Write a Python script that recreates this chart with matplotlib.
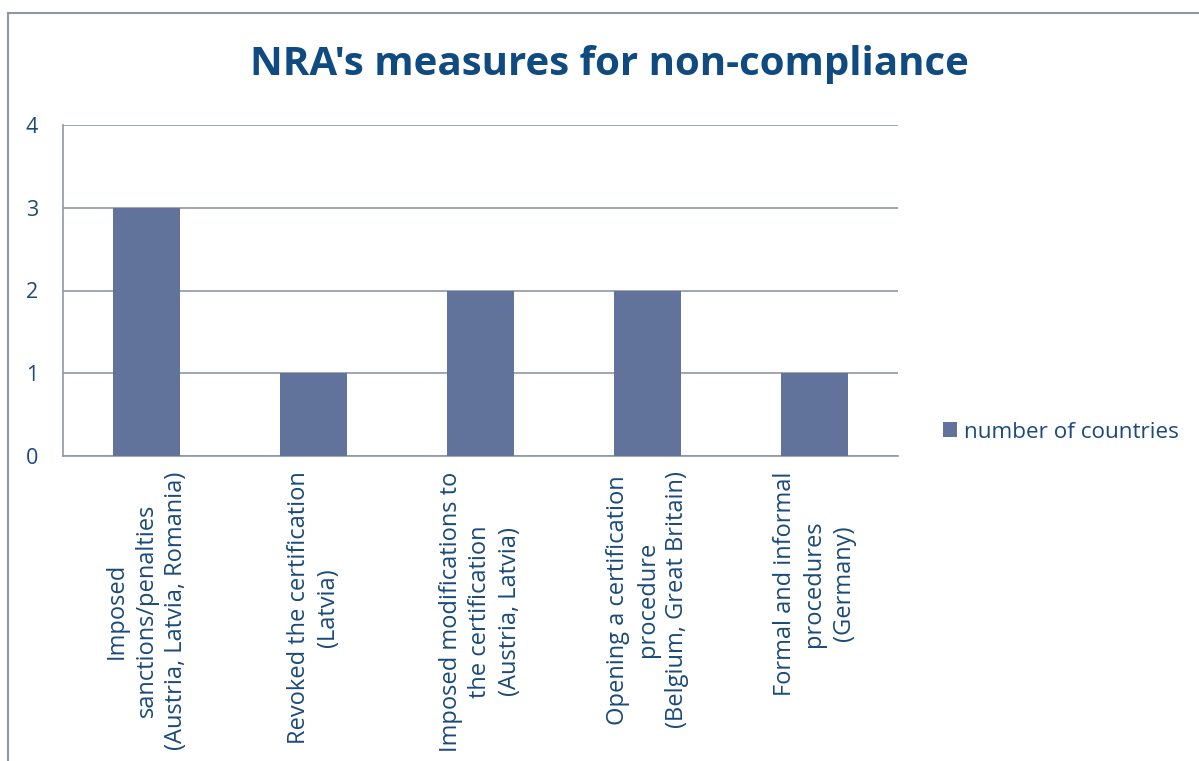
import matplotlib
matplotlib.use("Agg")
import matplotlib.pyplot as plt
from matplotlib.lines import Line2D
from matplotlib.patches import Patch

# data
categories = [
    "Imposed\nsanctions/penalties\n(Austria, Latvia, Romania)",
    "Revoked the certification\n(Latvia)",
    "Imposed modifications to\nthe certification\n(Austria, Latvia)",
    "Opening a certification\nprocedure\n(Belgium, Great Britain)",
    "Formal and informal\nprocedures\n(Germany)",
]
counts = [3, 1, 2, 2, 1]
series_name = "number of countries"
y_ticks = [0, 1, 2, 3, 4]

BAR_COLOR = "#61739a"
GRID_COLOR = "#8e97aa"
TEXT_COLOR = "#1a4a7a"
TITLE_COLOR = "#0f4a80"

plt.rcParams["font.family"] = ["Open Sans", "DejaVu Sans"]

fig = plt.figure(figsize=(11.99, 7.61), dpi=100)
ax = fig.add_axes([63 / 1199, 1 - 456 / 761, (898 - 63) / 1199, (456 - 125) / 761])

x = list(range(len(categories)))
ax.bar(x, counts, width=0.4, color=BAR_COLOR, zorder=3, label=series_name)

ax.set_xlim(-0.5, len(categories) - 0.5)
ax.set_ylim(0, 4)
ax.set_yticks(y_ticks)
ax.set_yticklabels([str(v) for v in y_ticks], fontsize=15.5, color=TEXT_COLOR)
ax.tick_params(axis="y", length=0, pad=18)
ax.tick_params(axis="x", length=0)
ax.set_xticks(x)
ax.set_xticklabels([])

for xi, lab in zip(x, categories):
    ax.annotate(lab, xy=(xi, 0), xycoords=("data", "axes fraction"),
                xytext=(0, -11), textcoords="offset points",
                rotation=90, ha="center", va="top", multialignment="center",
                fontsize=17, color=TEXT_COLOR, linespacing=1.3)

ax.yaxis.grid(True, color=GRID_COLOR, lw=1.2, zorder=0)
for side in ["top", "right"]:
    ax.spines[side].set_visible(False)
for side in ["left", "bottom"]:
    ax.spines[side].set_color(GRID_COLOR)
    ax.spines[side].set_linewidth(1.2)

# outer chart frame
fx = 8 / 1199
fy = 1 - 13 / 761
fig.add_artist(Line2D([fx, fx], [0, fy], transform=fig.transFigure, color=GRID_COLOR, lw=1.5))
fig.add_artist(Line2D([fx, 1], [fy, fy], transform=fig.transFigure, color=GRID_COLOR, lw=1.5))

fig.text(609 / 1199, 1 - 64 / 761, "NRA's measures for non-compliance",
         ha="center", va="center", fontsize=29, fontweight="bold", color=TITLE_COLOR)

handle = Patch(facecolor=BAR_COLOR, edgecolor="none")
fig.legend([handle], [series_name], loc="center left",
           bbox_to_anchor=(923 / 1199, 1 - 432 / 761), frameon=False,
           fontsize=16.2, labelcolor=TEXT_COLOR, handlelength=0.62, handleheight=0.62,
           handletextpad=0.3)

fig.savefig("out.png", dpi=100)
